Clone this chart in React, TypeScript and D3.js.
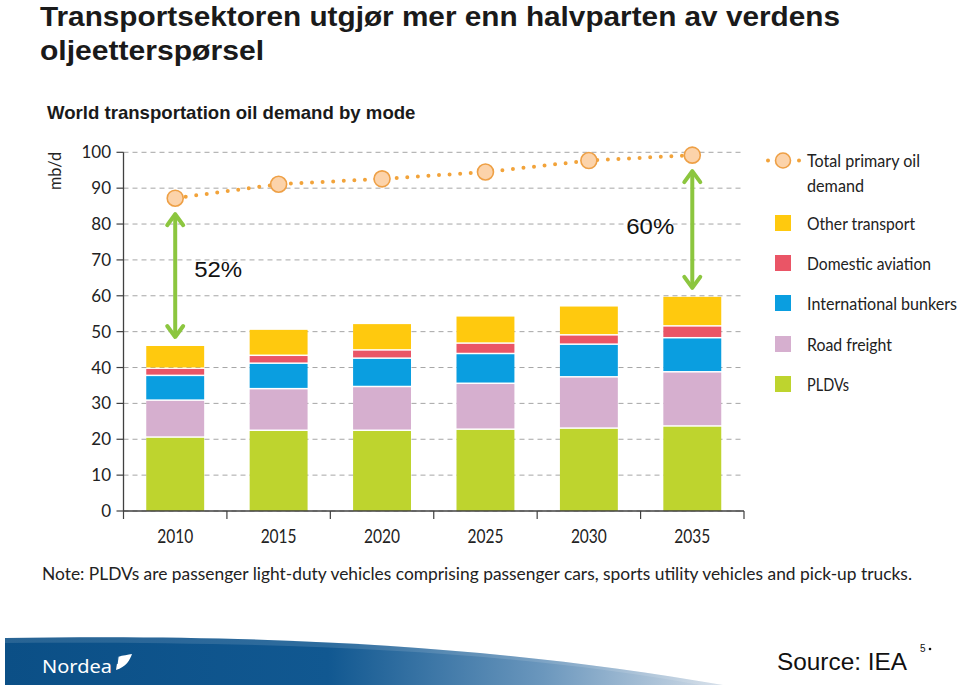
import React from "react";
import * as d3 from "d3";

const years = ["2010", "2015", "2020", "2025", "2030", "2035"];
const pldvs = [20.4, 22.3, 22.3, 22.6, 22.9, 23.5];
const roadFreight = [10.3, 11.6, 12.2, 12.8, 14.3, 15.1];
const intlBunkers = [6.9, 7.1, 7.9, 8.3, 9.1, 9.5];
const domesticAviation = [2.0, 2.2, 2.3, 2.9, 2.6, 3.3];
const otherTransport = [6.4, 7.3, 7.4, 7.6, 8.1, 8.3];
const totalPrimary = [87.2, 91.1, 92.6, 94.5, 97.7, 99.2];
const yTicks = [0, 10, 20, 30, 40, 50, 60, 70, 80, 90, 100];

const seriesKeys = ["pldvs", "road", "intl", "dom", "other"];
const seriesNames = ["PLDVs", "Road freight", "International bunkers", "Domestic aviation", "Other transport"];
const seriesColors = ["#bed42e", "#d6afcf", "#0a9ee0", "#ea5566", "#ffc90e"];
const legendWidths = [42, 85, 150, 124, 108];

const shareLabels = [
  { year: "2010", text: "52%", value: 65.3, side: "right" },
  { year: "2035", text: "60%", value: 77.1, side: "left" },
];

const CAL = "Lato, 'Open Sans', sans-serif";
const ARIAL = "'Liberation Sans', Arial, Helvetica, sans-serif";

export default function App() {
  const x = d3.scaleBand<string>().domain(years).range([123.5, 744]).paddingInner(0.44).paddingOuter(0.22);
  const y = d3.scaleLinear().domain([0, 100]).range([511, 152.3]);
  const rows = years.map((yr, i) => ({
    year: yr,
    pldvs: pldvs[i],
    road: roadFreight[i],
    intl: intlBunkers[i],
    dom: domesticAviation[i],
    other: otherTransport[i],
  }));
  const stacked = d3.stack<any>().keys(seriesKeys)(rows);
  const bw = x.bandwidth();
  const cx = (yr: string) => (x(yr) as number) + bw / 2;
  const step = x.step();
  const x0 = 123.5;
  const x1 = 744;

  const totalLine = d3
    .line<number>()
    .x((_, i) => cx(years[i]))
    .y((d) => y(d))(totalPrimary) as string;

  const barTop = years.map((_, i) => stacked[stacked.length - 1][i][1]);
  const arrowGreen = "#8cc63f";

  const arrow = (xx: number, top: number, bot: number, key: string) => (
    <g key={key} stroke={arrowGreen} strokeWidth={4} fill="none" strokeLinecap="round" strokeLinejoin="round">
      <line x1={xx} x2={xx} y1={top + 2} y2={bot - 2} />
      <polyline points={`${xx - 8},${top + 11} ${xx},${top} ${xx + 8},${top + 11}`} />
      <polyline points={`${xx - 8},${bot - 11} ${xx},${bot} ${xx + 8},${bot - 11}`} />
    </g>
  );

  const legendX = 775;
  const legendSquaresY = [376, 336, 295, 255, 215];

  return (
    <svg width={960} height={688} style={{ position: "absolute", left: 0, top: 0, background: "#fff" }}>
      <defs>
        <linearGradient id="band" x1="0" x2="1" y1="0" y2="0">
          <stop offset="0" stopColor="#0b4f86" />
          <stop offset="0.45" stopColor="#115891" />
          <stop offset="0.75" stopColor="#6b97bd" />
          <stop offset="1" stopColor="#d3dde8" />
        </linearGradient>
      </defs>

      {/* Titles */}
      <text x={40} y={26} fontFamily={ARIAL} fontWeight="bold" fontSize={28.5} fill="#1a1a1a" textLength={800} lengthAdjust="spacingAndGlyphs">
        Transportsektoren utgjør mer enn halvparten av verdens
      </text>
      <text x={40} y={60} fontFamily={ARIAL} fontWeight="bold" fontSize={28.5} fill="#1a1a1a" textLength={224} lengthAdjust="spacingAndGlyphs">
        oljeetterspørsel
      </text>
      <text x={47} y={119} fontFamily={ARIAL} fontWeight="bold" fontSize={18.6} fill="#1a1a1a">
        World transportation oil demand by mode
      </text>

      {/* gridlines */}
      {yTicks.map((t) => (
        <line key={"g" + t} x1={x0} x2={x1} y1={y(t)} y2={y(t)} stroke="#a6a6a6" strokeWidth={1} strokeDasharray="5 4" />
      ))}

      {/* bars */}
      {stacked.map((s, si) => (
        <g key={s.key} fill={seriesColors[si]}>
          {s.map((d, i) => (
            <rect
              key={i}
              x={x(years[i])}
              width={bw}
              y={y(d[1])}
              height={Math.max(0, y(d[0]) - y(d[1]) - (si === 0 ? 0 : 1.5))}
            />
          ))}
        </g>
      ))}

      {/* axes */}
      <line x1={x0} x2={x0} y1={y(100)} y2={y(0)} stroke="#404040" strokeWidth={1.3} />
      <line x1={x0} x2={x1} y1={y(0)} y2={y(0)} stroke="#404040" strokeWidth={1.3} />
      {yTicks.map((t) => (
        <g key={"yt" + t}>
          <line x1={x0 - 7} x2={x0} y1={y(t)} y2={y(t)} stroke="#404040" strokeWidth={1.2} />
          <text x={111} y={y(t) + 6} textAnchor="end" fontFamily={CAL} fontSize={17} fill="#222">
            {t}
          </text>
        </g>
      ))}
      {d3.range(years.length + 1).map((k) => (
        <line key={"xt" + k} x1={x0 + k * step} x2={x0 + k * step} y1={y(0)} y2={y(0) + 8} stroke="#404040" strokeWidth={1.2} />
      ))}
      {years.map((yr) => (
        <text key={"xl" + yr} x={cx(yr)} y={543} textAnchor="middle" fontFamily={CAL} fontSize={18.5} fill="#222" textLength={36} lengthAdjust="spacingAndGlyphs">
          {yr}
        </text>
      ))}
      <text transform="translate(61,171) rotate(-90)" textAnchor="middle" fontFamily={CAL} fontSize={17} fill="#222" textLength={38} lengthAdjust="spacingAndGlyphs">
        mb/d
      </text>

      {/* total line */}
      <path d={totalLine} fill="none" stroke="#f2a33a" strokeWidth={4} strokeDasharray="0 10.6" strokeLinecap="round" />
      {totalPrimary.map((v, i) => (
        <circle key={"m" + i} cx={cx(years[i])} cy={y(v)} r={8} fill="#fcd3aa" stroke="#eea046" strokeWidth={1.6} />
      ))}

      {/* arrows */}
      {shareLabels.map((s) => {
        const i = years.indexOf(s.year);
        return arrow(cx(s.year), y(totalPrimary[i]) + 16, y(barTop[i]) - 9, "a" + s.year);
      })}
      {shareLabels.map((s) => (
        <text
          key={"s" + s.year}
          x={s.side === "right" ? cx(s.year) + 19 : cx(s.year) - 18}
          y={y(s.value)}
          textAnchor={s.side === "right" ? "start" : "end"}
          fontFamily={ARIAL}
          fontSize={22}
          fill="#111"
          textLength={48}
          lengthAdjust="spacingAndGlyphs"
        >
          {s.text}
        </text>
      ))}

      {/* legend */}
      <g>
        <line x1={768} x2={800} y1={160.5} y2={160.5} stroke="#f2a33a" strokeWidth={4} strokeDasharray="0 31" strokeLinecap="round" />
        <circle cx={783} cy={160.5} r={7.5} fill="#fcd3aa" stroke="#eea046" strokeWidth={1.6} />
        <text x={807} y={166.5} fontFamily={CAL} fontSize={16.5} fill="#222" textLength={113} lengthAdjust="spacingAndGlyphs">
          Total primary oil
        </text>
        <text x={807} y={191.5} fontFamily={CAL} fontSize={16.5} fill="#222" textLength={57} lengthAdjust="spacingAndGlyphs">
          demand
        </text>
        {seriesNames.map((n, i) => (
          <g key={"lg" + i}>
            <rect x={legendX} y={legendSquaresY[i]} width={16} height={16} fill={seriesColors[i]} />
            <text x={807} y={legendSquaresY[i] + 15} fontFamily={CAL} fontSize={16.5} fill="#222" textLength={legendWidths[i]} lengthAdjust="spacingAndGlyphs">
              {n}
            </text>
          </g>
        ))}
      </g>

      {/* note */}
      <text x={42} y={580} fontFamily={CAL} fontSize={16.5} fill="#222" textLength={870} lengthAdjust="spacingAndGlyphs">
        Note: PLDVs are passenger light-duty vehicles comprising passenger cars, sports utility vehicles and pick-up trucks.
      </text>

      {/* footer */}
      <path d="M5,638 C 300,633 520,650 723,685 L5,685 Z" fill="url(#band)" />
      <path d="M5,638 C 300,633 520,650 723,685 L700,685 C 520,652 300,641 5,643 Z" fill="#ffffff" opacity={0.12} />
      <text x={42} y={673} fontFamily={"'Noto Sans', sans-serif"} fontSize={18} fill="#fff" textLength={70} lengthAdjust="spacingAndGlyphs">
        Nordea
      </text>
      <path d="M116,670 L118,657 C123,655 128,655 132,654 C130,660 126,667 116,670 Z" fill="#fff" />
      <path d="M118,657 L117,664" stroke="#115891" strokeWidth={1.2} />
      <text x={777} y={670} fontFamily={ARIAL} fontSize={23.5} fill="#111" textLength={130} lengthAdjust="spacingAndGlyphs">
        Source: IEA
      </text>
      <text x={920} y={652} fontFamily={ARIAL} fontSize={10} fill="#111">
        5
      </text>
      <circle cx={930} cy={649} r={1.3} fill="#111" />
    </svg>
  );
}
